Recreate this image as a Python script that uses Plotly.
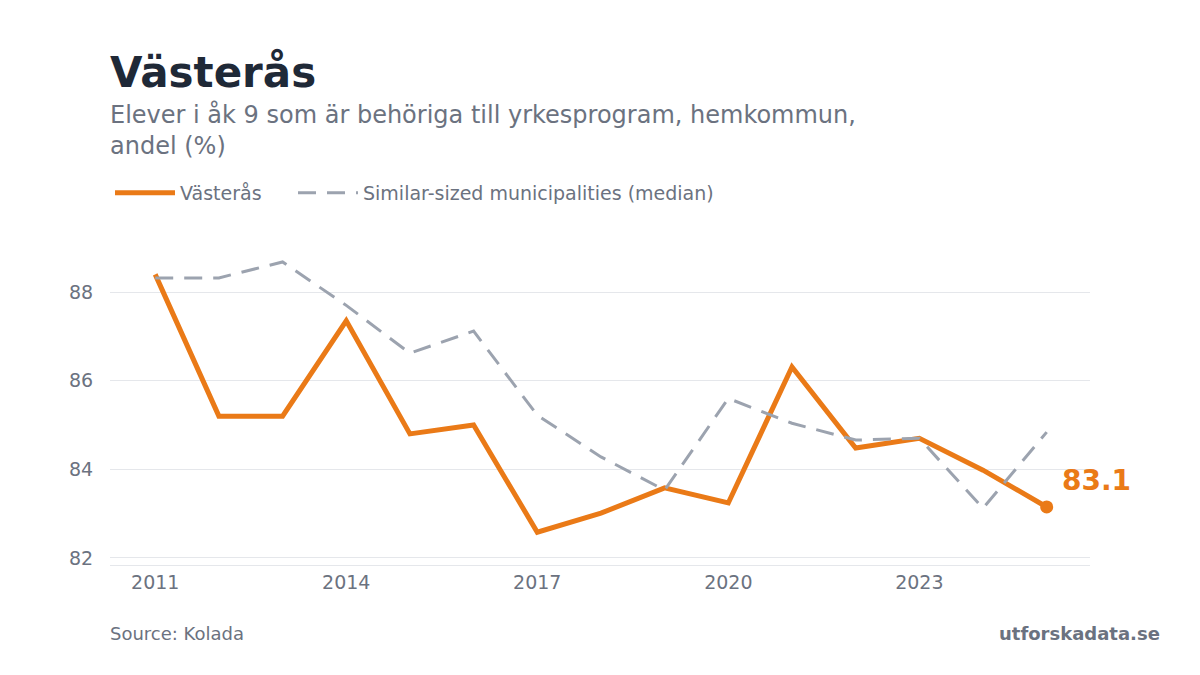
import plotly.graph_objects as go

# years and values
years = list(range(2011, 2026))
vasteras = [88.4, 85.2, 85.2, 87.35, 84.8, 85.0, 82.58, 83.01, 83.58, 83.24,
            86.31, 84.48, 84.7, 83.98, 83.15]
similar_median = [88.32, 88.32, 88.68, 87.7, 86.62, 87.12, 85.22, 84.28, 83.53, 85.6,
                  85.04, 84.66, 84.7, 83.12, 84.84]
x_ticks = [2011, 2014, 2017, 2020, 2023]
y_ticks = [82, 84, 86, 88]

orange = "#ea7a17"
grey_line = "#9ca3af"
text_grey = "#6b7280"
font = "DejaVu Sans"

fig = go.Figure()

fig.add_trace(go.Scatter(x=years, y=vasteras, mode="lines", name="Västerås",
                         line=dict(color=orange, width=5), legend="legend"))
fig.add_trace(go.Scatter(x=years, y=similar_median, mode="lines",
                         name="Similar-sized municipalities (median)",
                         line=dict(color=grey_line, width=3, dash="18px,11px"),
                         legend="legend2"))
# end point marker
fig.add_trace(go.Scatter(x=[years[-1]], y=[vasteras[-1]], mode="markers",
                         marker=dict(color=orange, size=13), showlegend=False))

# two legends so the entries sit where the original has them
legend_style = dict(orientation="h", xref="container", yref="container",
                    y=0.726, xanchor="left", yanchor="middle",
                    font=dict(size=19, color=text_grey), itemwidth=60)

# page adds 8px body margin, so margins are 8px smaller on top/left
fig.update_layout(
    width=1200, height=675,
    margin=dict(l=102, r=118, t=242, b=118),
    plot_bgcolor="white", paper_bgcolor="white",
    font=dict(family=font, color=text_grey, size=19),
    legend=dict(x=0.085, **legend_style),
    legend2=dict(x=0.2375, **legend_style),
    showlegend=True,
)

fig.update_xaxes(range=[2010.29, 2025.68], tickvals=x_ticks, showgrid=False,
                 showline=True, linecolor="#e5e7eb", linewidth=1, zeroline=False,
                 ticks="")
fig.update_yaxes(range=[81.84, 88.95], tickvals=y_ticks, showgrid=True,
                 gridcolor="#e5e7eb", gridwidth=1, zeroline=False,
                 ticks="outside", ticklen=12, tickcolor="rgba(0,0,0,0)")

# titles and footer
fig.add_annotation(text="<b>Västerås</b>", xref="paper", yref="paper", x=0, y=1.562,
                   xanchor="left", yanchor="middle", showarrow=False, xshift=-2,
                   font=dict(size=42, color="#1f2937", family=font))
fig.add_annotation(text="Elever i åk 9 som är behöriga till yrkesprogram, hemkommun,<br>andel (%)",
                   xref="paper", yref="paper", x=0, y=1.381, xanchor="left",
                   yanchor="middle", align="left", showarrow=False, xshift=-2,
                   font=dict(size=24, color=text_grey, family=font))
fig.add_annotation(text="Source: Kolada", xref="paper", yref="paper", x=0, y=-0.219,
                   xanchor="left", yanchor="middle", showarrow=False, xshift=-2,
                   font=dict(size=18, color=text_grey))
fig.add_annotation(text="<b>utforskadata.se</b>", xref="paper", yref="paper", x=1.0714,
                   y=-0.219, xanchor="right", yanchor="middle", showarrow=False,
                   xshift=2, font=dict(size=18, color=text_grey))
# last value label
fig.add_annotation(text="<b>83.1</b>", x=years[-1], y=vasteras[-1], xanchor="left",
                   yanchor="middle", xshift=13, yshift=26, showarrow=False,
                   font=dict(size=28, color=orange))

fig.write_html("out.html")
